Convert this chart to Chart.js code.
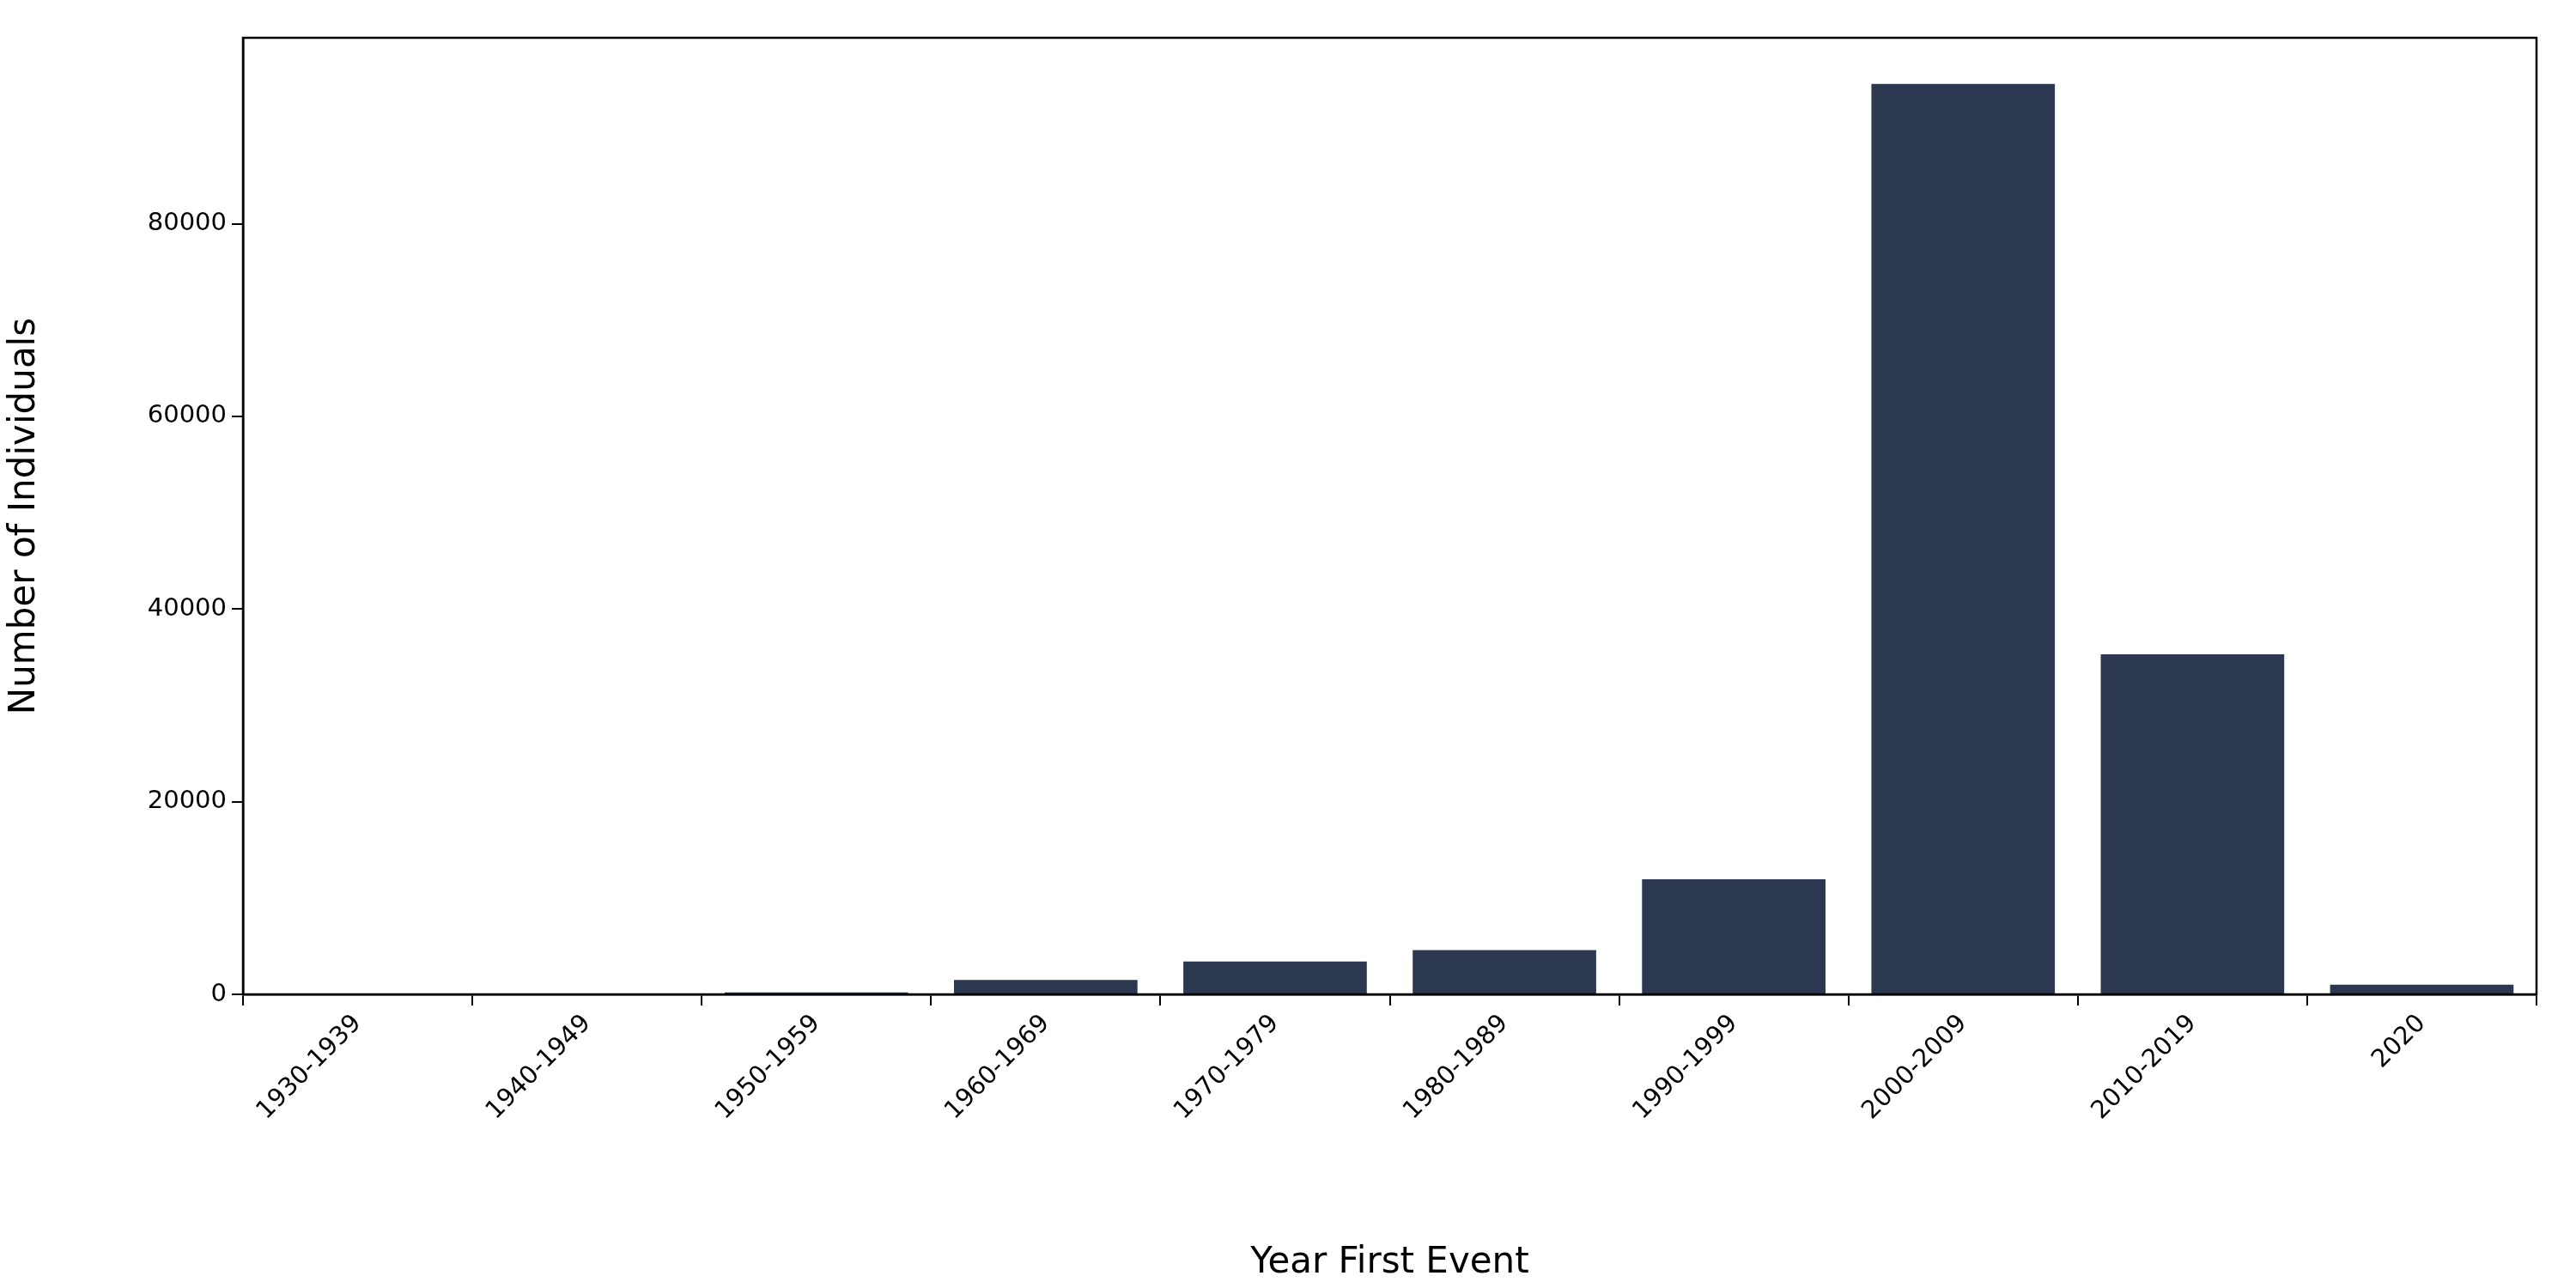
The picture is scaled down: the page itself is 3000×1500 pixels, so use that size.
<!DOCTYPE html>
<html><head><meta charset="utf-8">
<script src="https://cdn.jsdelivr.net/npm/chart.js@4"></script>
<style>html,body{margin:0;padding:0;background:#fff}#w{width:3000px;height:1500px}</style>
</head><body><div id="w"><canvas id="c"></canvas></div>
<script>
const categories = ["1930-1939","1940-1949","1950-1959","1960-1969","1970-1979","1980-1989","1990-1999","2000-2009","2010-2019","2020"];
const individuals = [10, 30, 200, 1500, 3400, 4600, 11950, 94500, 35300, 1000];
const yTicks = [0, 20000, 40000, 60000, 80000];
const boxPlugin = {id:'box', afterDraw(c){const a=c.chartArea,x=c.ctx;x.save();x.strokeStyle='#000';x.lineWidth=2.5;x.strokeRect(a.left,a.top,a.right-a.left,a.bottom-a.top);x.restore();}};
new Chart(document.getElementById('c'), {
  type:'bar',
  data:{labels:categories, datasets:[{data:individuals, backgroundColor:'#2c3850', barPercentage:0.8, categoryPercentage:1.0}]},
  options:{responsive:true, maintainAspectRatio:false, animation:false, devicePixelRatio:1,
    layout:{padding:{top:44,right:46,left:0,bottom:0}},
    plugins:{legend:{display:false},tooltip:{enabled:false}},
    scales:{
      x:{grid:{display:true,drawOnChartArea:false,tickLength:13,color:'#000',lineWidth:2},border:{color:'#000',width:2.5},
        ticks:{color:'#000',font:{family:'DejaVu Sans',size:29},maxRotation:45,minRotation:45,padding:4},
        title:{display:true,text:'Year First Event',color:'#000',font:{family:'DejaVu Sans',size:42},padding:{top:8}},
        afterFit(s){s.height=342;}},
      y:{min:0,max:99300,grid:{display:true,drawOnChartArea:false,tickLength:13,color:'#000',lineWidth:2},border:{color:'#000',width:2.5},
        afterBuildTicks(s){s.ticks=yTicks.map(v=>({value:v}));},
        ticks:{color:'#000',font:{family:'DejaVu Sans',size:29},padding:6,callback:v=>String(v)},
        title:{display:true,text:'Number of Individuals',color:'#000',font:{family:'DejaVu Sans',size:42},padding:{bottom:20}},
        afterFit(s){s.width=283;}}
    }},
  plugins:[boxPlugin]
});
</script></body></html>
